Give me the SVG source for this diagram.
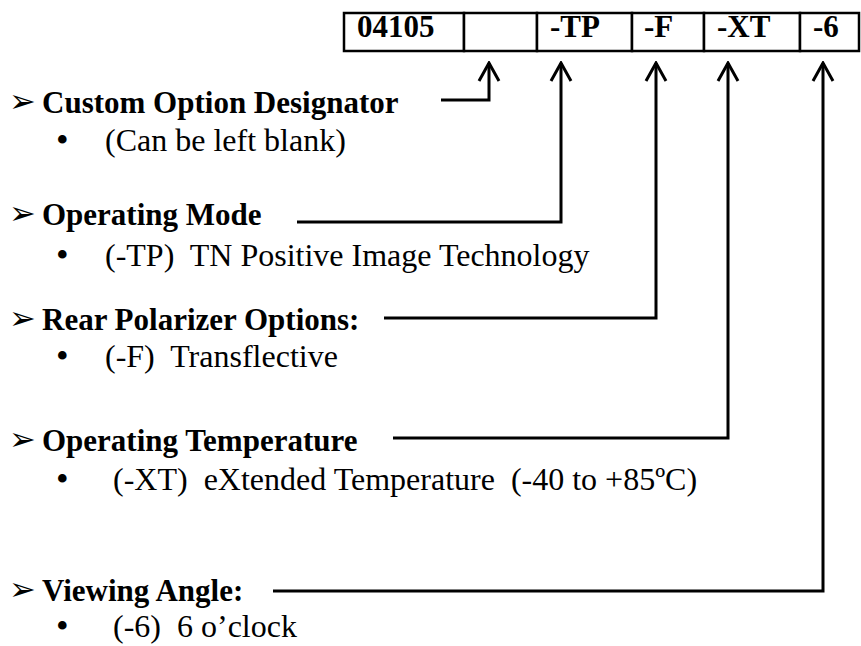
<svg xmlns="http://www.w3.org/2000/svg" width="861" height="646" viewBox="0 0 861 646">
<style>
.h{font-family:"Liberation Serif","Times New Roman",serif;font-weight:bold;font-size:31px;fill:#000}
.t{font-family:"Liberation Serif","Times New Roman",serif;font-size:32px;fill:#000;white-space:pre}
.b{font-family:"Liberation Serif","Times New Roman",serif;font-size:36px;fill:#000}
.ar{font-family:"DejaVu Sans",sans-serif;font-size:32px;fill:#000}
.cell{fill:#fff;stroke:#000;stroke-width:2.5}
.con{fill:none;stroke:#000;stroke-width:3}
</style>
<defs>
<marker id="ah" viewBox="0 0 22 24" refX="20" refY="12" markerWidth="22" markerHeight="24" markerUnits="userSpaceOnUse" orient="auto">
<path d="M2,2 L20,12 L2,22" fill="none" stroke="#000" stroke-width="3"/>
</marker>
</defs>
<rect width="861" height="646" fill="#fff"/>
<g id="partnumber">
<rect class="cell" x="344" y="13" width="120" height="38"/>
<rect class="cell" x="464" y="13" width="73" height="38"/>
<rect class="cell" x="537" y="13" width="95" height="38"/>
<rect class="cell" x="632" y="13" width="72" height="38"/>
<rect class="cell" x="704" y="13" width="96" height="38"/>
<rect class="cell" x="800" y="13" width="59" height="38"/>
<text class="h" x="357" y="37">04105</text>
<text class="h" x="550" y="37">-TP</text>
<text class="h" x="644" y="37">-F</text>
<text class="h" x="717" y="37">-XT</text>
<text class="h" x="813" y="37">-6</text>
</g>
<g id="connectors">
<path class="con" d="M441,100 H489 V63" marker-end="url(#ah)"/>
<path class="con" d="M297,222 H561 V63" marker-end="url(#ah)"/>
<path class="con" d="M384,318 H656 V63" marker-end="url(#ah)"/>
<path class="con" d="M393,438 H728 V63" marker-end="url(#ah)"/>
<path class="con" d="M273,591 H823 V63" marker-end="url(#ah)"/>
</g>
<g id="custom">
<text class="ar" x="9" y="112">➢</text>
<text class="h" x="42" y="113">Custom Option Designator</text>
<text class="b" x="56" y="152">•</text>
<text class="t" x="105" y="151">(Can be left blank)</text>
</g>
<g id="mode">
<text class="ar" x="9" y="224">➢</text>
<text class="h" x="42" y="225">Operating Mode</text>
<text class="b" x="56" y="267">•</text>
<text class="t" x="105" y="266">(-TP)  TN Positive Image Technology</text>
</g>
<g id="polarizer">
<text class="ar" x="9" y="329">➢</text>
<text class="h" x="42" y="330">Rear Polarizer Options:</text>
<text class="b" x="56" y="368">•</text>
<text class="t" x="105" y="367">(-F)  Transflective</text>
</g>
<g id="temperature">
<text class="ar" x="9" y="450">➢</text>
<text class="h" x="42" y="451">Operating Temperature</text>
<text class="b" x="56" y="491">•</text>
<text class="t" x="113" y="490">(-XT)  eXtended Temperature  (-40 to +85ºC)</text>
</g>
<g id="viewing">
<text class="ar" x="9" y="600">➢</text>
<text class="h" x="42" y="601">Viewing Angle:</text>
<text class="b" x="56" y="638">•</text>
<text class="t" x="113" y="637">(-6)  6 o’clock</text>
</g>
</svg>
